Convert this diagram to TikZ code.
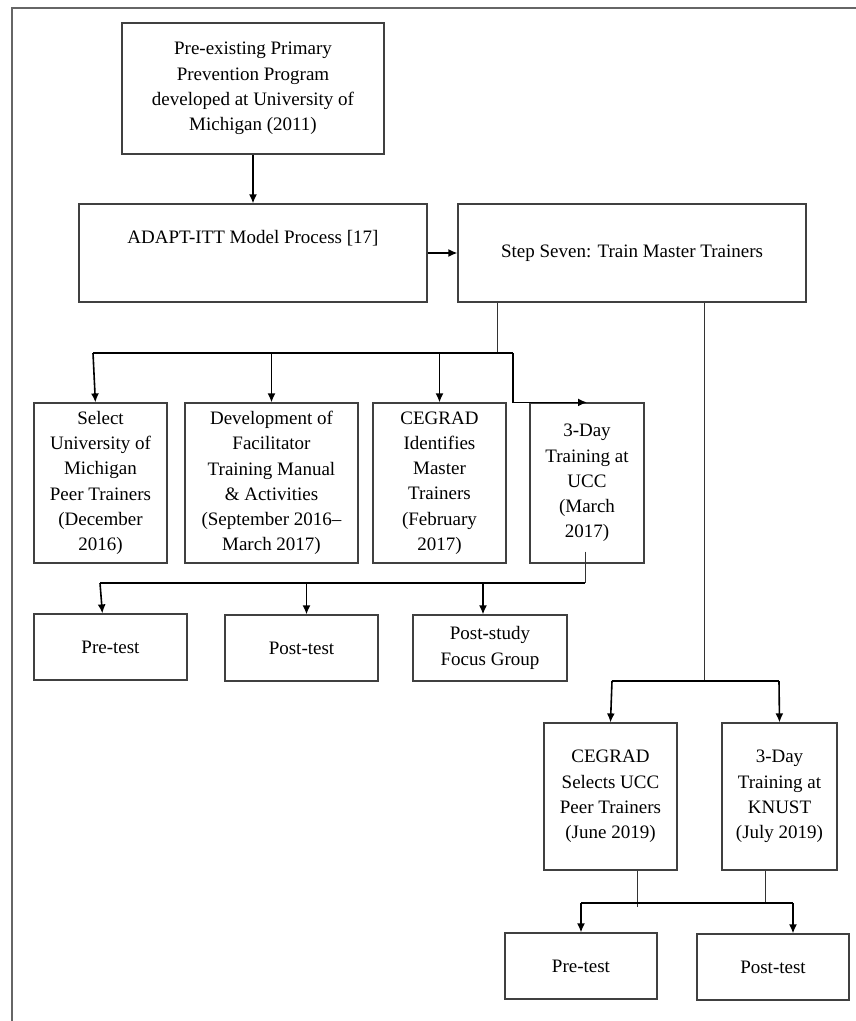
\documentclass[tikz,border=0pt]{standalone}
\usepackage{fontspec}
\setmainfont{Liberation Serif}
\usetikzlibrary{arrows.meta}
\usetikzlibrary{positioning}
\usetikzlibrary{calc}
\newcommand{\bnode}[5]{\node(#1)[item, minimum width=#3pt, minimum height=#4pt] at (#2) {#5}}

\begin{document}
\begin{tikzpicture}[x=1pt,y=-1pt,
        every node/.style={font=\fontsize{19}{25.2}\selectfont},
        item/.style={rectangle,draw=black!75,line width=1.2pt,align=center,inner sep=0pt},
        link/.style={line width=1.6pt,-{Latex[length=9pt,width=8pt]}},
        plain/.style={line width=1.6pt},
        thinline/.style={line width=0.9pt,draw=black!80},
        frame/.style={line width=2pt,draw=black!60}
      ]
      \useasboundingbox (0,0) rectangle (856,1021);
      \draw[frame] (12,1021) -- (12,8) -- (856,8);

      % top
      \bnode{pre}{253,88.5}{262}{131}{Pre-existing Primary\\Prevention Program\\developed at University of\\Michigan (2011)};
      \bnode{adapt}{253,253}{348}{98}{ADAPT-ITT Model Process [17]\\\strut};
      \bnode{step}{632,253}{348}{98}{Step Seven: Train Master Trainers};

      % first branch
      \bnode{sel}{100.5,483}{133}{160}{Select\\University of\\Michigan\\Peer Trainers\\(December\\2016)};
      \bnode{dev}{271.5,483}{173}{160}{Development of\\Facilitator\\Training Manual\\\& Activities\\(September 2016--\\March 2017)};
      \bnode{ident}{439.5,483}{133}{160}{CEGRAD\\Identifies\\Master\\Trainers\\(February\\2017)};
      \bnode{ucc}{587,483}{114}{160}{3-Day\\Training at\\UCC\\(March\\2017)};

      \bnode{preA}{110.5,647}{153}{66}{Pre-test};
      \bnode{postA}{301.5,648}{153}{66}{Post-test};
      \bnode{focus}{490,648}{154}{66}{Post-study\\Focus Group};

      % second branch
      \bnode{csel}{610.5,796.5}{133}{147}{CEGRAD\\Selects UCC\\Peer Trainers\\(June 2019)};
      \bnode{knust}{779.5,796.5}{115}{147}{3-Day\\Training at\\KNUST\\(July 2019)};

      \bnode{preB}{581,966}{152}{66}{Pre-test};
      \bnode{postB}{773,967}{152}{66}{Post-test};

      \coordinate (hubA) at (497,353);
      \coordinate (hubAl) at (93,353);
      \coordinate (hubAr) at (513,353);
      \coordinate (hubB) at (585,583);
      \coordinate (hubBl) at (100,583);
      \coordinate (hubC) at (704,681);
      \coordinate (hubCl) at (612,681);
      \coordinate (hubCr) at (779,681);
      \coordinate (hubD) at (637,907);
      \coordinate (hubDl) at (581,903);
      \coordinate (hubDr) at (793,903);

      \draw[link] (pre) -- (adapt);
      \draw[link] (adapt.east) -- (step.west);

      \draw[thinline] (step.south -| hubA) -- (hubA);
      \draw[plain] (hubAl) -- (hubAr);
      \draw[link] (hubAl) -- ([xshift=62pt]sel.north west);
      \draw[link] (hubAl -| dev) -- (dev.north);
      \draw[link] (hubAl -| ident) -- (ident.north);
      \draw[link] (hubAr) -- (hubAr |- ucc.north) -- (ucc.north);

      \draw[thinline] ([xshift=-2pt,yshift=12pt]ucc.south) -- (hubB);
      \draw[plain] (hubBl) -- (hubB);
      \draw[link] (hubBl) -- ([xshift=69pt]preA.north west);
      \draw[link] ([xshift=5pt]postA.north |- hubB) -- ([xshift=5pt]postA.north);
      \draw[link] ([xshift=-7pt]focus.north |- hubB) -- ([xshift=-7pt]focus.north);

      \draw[thinline] (step.south -| hubC) -- (hubC);
      \draw[plain] (hubCl) -- (hubCr);
      \draw[link] (hubCl) -- (csel.north);
      \draw[link] (hubCr) -- (knust.north);

      \draw[thinline] (csel.south -| hubD) -- (hubD);
      \draw[thinline] ([xshift=-14.5pt]knust.south) -- ([xshift=-14.5pt]knust.south |- hubDr);
      \draw[plain] (hubDl) -- (hubDr);
      \draw[link] (hubDl) -- (preB.north);
      \draw[link] (hubDr) -- ([xshift=20pt]postB.north);
    \end{tikzpicture}
\end{document}
